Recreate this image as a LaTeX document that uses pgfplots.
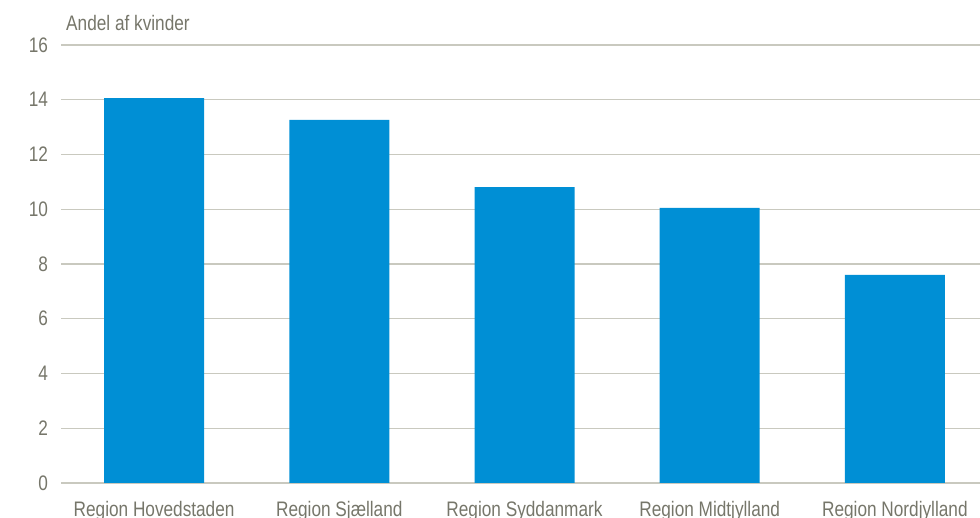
\documentclass[border=0pt]{standalone}
\usepackage{fontspec}
\setmainfont{Liberation Sans}[FakeStretch=0.82]
\usepackage{pgfplots}
\pgfplotsset{compat=1.18}
\definecolor{barblue}{HTML}{008FD5}
\definecolor{txtgray}{HTML}{76766A}
\definecolor{gridgray}{HTML}{C9C9BF}
\begin{document}
\begin{tikzpicture}[x=1pt,y=1pt]
\path[use as bounding box] (0,0) rectangle (980,518);
\begin{axis}[
    at={(61.5pt,35pt)}, anchor=south west,
    scale only axis,
    width=926pt, height=438pt,
    xmin=-0.5, xmax=4.5,
    ymin=0, ymax=16,
    ytick={0,2,...,16},
    xtick={0,1,2,3,4},
    xticklabels={Region Hovedstaden, Region Sjælland, Region Syddanmark, Region Midtjylland, Region Nordjylland},
    axis line style={draw=none},
    major tick length=0pt,
    ymajorgrids,
    major grid style={gridgray, line width=1.2pt},
    tick label style={font=\fontsize{21}{24}\selectfont, text=txtgray},
    yticklabel style={xshift=-10pt},
    xticklabel style={yshift=-15pt},
    /pgf/number format/assume math mode=true,
    ybar, bar width=100pt,
  ]
  \addplot[fill=barblue, draw=none] coordinates {
    (0,14.06) (1,13.26) (2,10.81) (3,10.05) (4,7.60)
  };
\end{axis}
\node[anchor=base west, text=txtgray, font=\fontsize{21}{24}\selectfont, inner sep=0pt] at (66,487) {Andel af kvinder};
\end{tikzpicture}
\end{document}
